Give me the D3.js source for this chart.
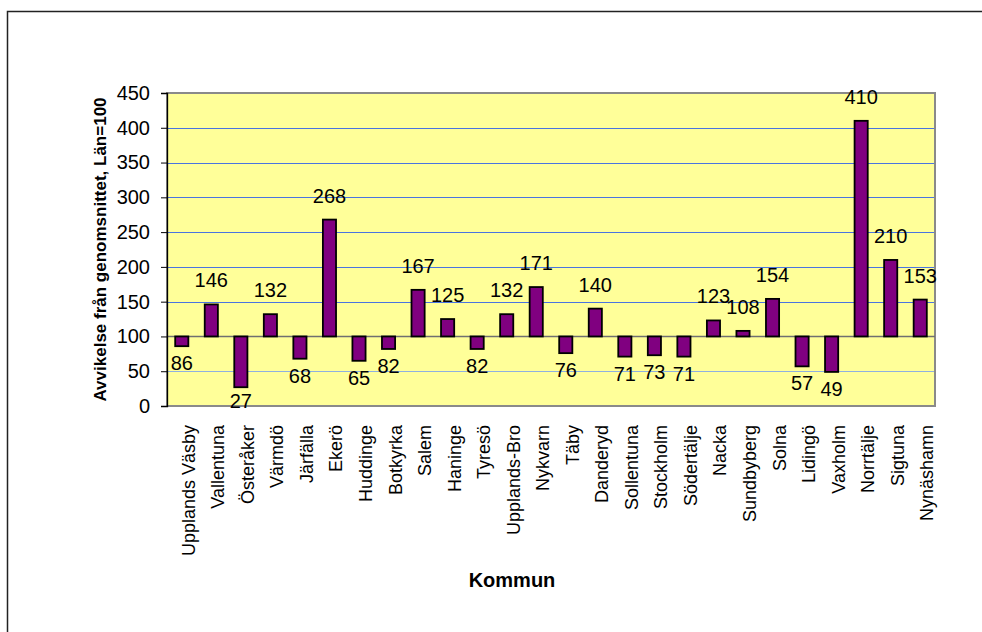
<!DOCTYPE html>
<html>
<head>
<meta charset="utf-8">
<script src="https://cdn.jsdelivr.net/npm/d3@7"></script>
<style>
  body { margin: 0; background: #fff; }
  svg { display: block; font-family: Arial, "Liberation Sans", sans-serif; }
</style>
</head>
<body>
<svg id="chart" width="982" height="632"></svg>
<script>
// Kommuner och avvikelse från genomsnittet (Län = 100)
const kommuner = [
  'Upplands Väsby', 'Vallentuna', 'Österåker', 'Värmdö', 'Järfälla', 'Ekerö',
  'Huddinge', 'Botkyrka', 'Salem', 'Haninge', 'Tyresö', 'Upplands-Bro',
  'Nykvarn', 'Täby', 'Danderyd', 'Sollentuna', 'Stockholm', 'Södertälje',
  'Nacka', 'Sundbyberg', 'Solna', 'Lidingö', 'Vaxholm', 'Norrtälje',
  'Sigtuna', 'Nynäshamn'
];
const avvikelse = [
  86, 146, 27, 132, 68, 268,
  65, 82, 167, 125, 82, 132,
  171, 76, 140, 71, 73, 71,
  123, 108, 154, 57, 49, 410,
  210, 153
];
const yTicks = [0, 50, 100, 150, 200, 250, 300, 350, 400, 450];
const baseValue = 100;

const data = kommuner.map((k, i) => ({ name: k, value: avvikelse[i] }));

const svg = d3.select('#chart');

// chart area frame
svg.append('rect')
  .attr('x', 7.5)
  .attr('y', 11.5)
  .attr('width', 1000)
  .attr('height', 700)
  .attr('fill', '#fff')
  .attr('stroke', '#222')
  .attr('stroke-width', 1.5);

const plot = { left: 167, right: 935, top: 93, bottom: 406 };

const x = d3.scaleBand()
  .domain(kommuner)
  .range([plot.left, plot.right])
  .paddingInner(0.555)
  .paddingOuter(0.2775);

const y = d3.scaleLinear()
  .domain([0, 450])
  .range([plot.bottom, plot.top]);

// plot background
svg.append('rect')
  .attr('x', plot.left)
  .attr('y', plot.top)
  .attr('width', plot.right - plot.left)
  .attr('height', plot.bottom - plot.top)
  .attr('fill', '#FFFF99');

// gridlines
svg.append('g')
  .selectAll('line')
  .data(yTicks.filter(t => t > 0 && t < 450 && t !== baseValue))
  .join('line')
  .attr('x1', plot.left)
  .attr('x2', plot.right)
  .attr('y1', d => Math.round(y(d)) + 0.5)
  .attr('y2', d => Math.round(y(d)) + 0.5)
  .attr('stroke', d => (d === 50 ? '#8fb0e0' : '#4a74e0'))
  .attr('stroke-width', 1);

// plot border
svg.append('rect')
  .attr('x', plot.left)
  .attr('y', plot.top)
  .attr('width', plot.right - plot.left)
  .attr('height', plot.bottom - plot.top)
  .attr('fill', 'none')
  .attr('stroke', '#8a8a8a')
  .attr('stroke-width', 2);

// category axis crossing at 100
svg.append('line')
  .attr('x1', plot.left)
  .attr('x2', plot.right)
  .attr('y1', Math.round(y(baseValue)) + 0.5)
  .attr('y2', Math.round(y(baseValue)) + 0.5)
  .attr('stroke', '#707070')
  .attr('stroke-width', 1.3);

// bars from 100
svg.append('g')
  .selectAll('rect')
  .data(data)
  .join('rect')
  .attr('x', d => x(d.name))
  .attr('width', x.bandwidth())
  .attr('y', d => y(Math.max(d.value, baseValue)))
  .attr('height', d => Math.abs(y(d.value) - y(baseValue)))
  .attr('fill', '#800080')
  .attr('stroke', '#000')
  .attr('stroke-width', 1.8);

// value labels
svg.append('g')
  .selectAll('text')
  .data(data)
  .join('text')
  .attr('x', d => x(d.name) + x.bandwidth() / 2)
  .attr('y', d => (d.value >= baseValue
    ? y(d.value) - 17
    : Math.min(y(d.value) + 24, plot.bottom + 2)))
  .attr('text-anchor', 'middle')
  .attr('font-size', 20)
  .attr('fill', '#000')
  .text(d => d.value);

// y axis
const yAxis = svg.append('g')
  .attr('transform', `translate(${plot.left},0)`)
  .call(d3.axisLeft(y).tickValues(yTicks).tickSize(6).tickPadding(11));
yAxis.select('.domain').attr('stroke', '#000').attr('stroke-width', 1.3);
yAxis.selectAll('.tick line').attr('stroke', '#000');
yAxis.selectAll('.tick text')
  .attr('font-size', 20)
  .attr('font-family', 'Arial, "Liberation Sans", sans-serif')
  .attr('fill', '#000');

// category labels
svg.append('g')
  .selectAll('text')
  .data(kommuner)
  .join('text')
  .attr('transform', d => `translate(${x(d) + x.bandwidth() / 2 + 13},425) rotate(-90)`)
  .attr('text-anchor', 'end')
  .attr('font-size', 18)
  .attr('fill', '#000')
  .text(d => d);

// axis titles
svg.append('text')
  .attr('transform', `translate(106,${(plot.top + plot.bottom) / 2}) rotate(-90)`)
  .attr('text-anchor', 'middle')
  .attr('font-size', 17)
  .attr('font-weight', 'bold')
  .text('Avvikelse från genomsnittet, Län=100');

svg.append('text')
  .attr('x', 512)
  .attr('y', 587)
  .attr('text-anchor', 'middle')
  .attr('font-size', 20)
  .attr('font-weight', 'bold')
  .text('Kommun');
</script>
</body>
</html>
